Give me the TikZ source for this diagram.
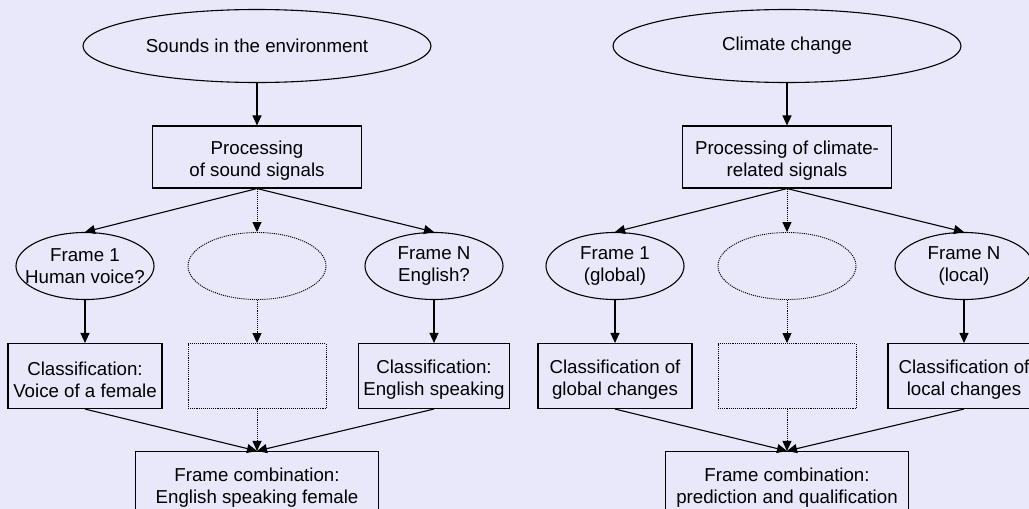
\documentclass[tikz,border=0pt]{standalone}
\usepackage{fontspec}
\setmainfont{Liberation Sans}
\usetikzlibrary{arrows.meta,shapes.geometric,positioning}
\definecolor{panelbg}{RGB}{232,232,250}

\tikzset{
  oval/.style={draw, ellipse, line width=1.1pt, inner xsep=-12pt, inner ysep=0pt, align=center},
  bigoval/.style={oval, minimum width=348, minimum height=73},
  frameoval/.style={oval, minimum width=138, minimum height=67},
  box/.style={draw, rectangle, line width=1.1pt, inner sep=0pt, align=center, text height=43pt},
  link/.style={-{Triangle[length=10pt,width=9pt]}, line width=1.1pt},
  dots/.style={densely dotted, line width=0.9pt},
}

\begin{document}
\begin{tikzpicture}[x=1pt,y=-1pt,font=\fontsize{18.7}{22}\selectfont]
\useasboundingbox (0,0) rectangle (1029,509);
\clip (0,0) rectangle (1029,509);
\fill[panelbg] (0,0) rectangle (1029,509);
% sound panel
\node[bigoval] (sTop) at (257,46) {Sounds in the environment};
\node[box, minimum width=209, minimum height=62] (sProc) at (257,157) {Processing\\of sound signals};
\node[frameoval] (sF1) at (85,266) {Frame 1\\Human voice?};
\node[frameoval, dots] (sFm) at (257,266) {};
\node[frameoval] (sFN) at (434,266) {Frame N\\English?};
\node[box, minimum width=154, minimum height=65] (sC1) at (85,376) {Classification:\\Voice of a female};
\node[box, dots, minimum width=138, minimum height=65] (sCm) at (257,376) {};
\node[box, minimum width=151, minimum height=65] (sCN) at (434,376) {Classification:\\English speaking};
\node[box, minimum width=243, minimum height=65] (sComb) at (257,484) {Frame combination:\\English speaking female};
\draw[link] (sTop) -- (sProc);
\draw[link] (sProc.south) -- (sF1.north);
\draw[link, dots] (sProc.south) -- (sFm.north);
\draw[link] (sProc.south) -- (sFN.north);
\draw[link] (sF1) -- (sC1);
\draw[link, dots] (sFm) -- (sCm);
\draw[link] (sFN) -- (sCN);
\draw[link] (sC1.south) -- (sComb.north);
\draw[link, dots] (sCm.south) -- (sComb.north);
\draw[link] (sCN.south) -- (sComb.north);
% climate panel
\begin{scope}[shift={(530,0)}]
\node[bigoval] (cTop) at (257,46) {Climate change};
\node[box, minimum width=209, minimum height=62] (cProc) at (257,157) {Processing of climate-\\related signals};
\node[frameoval] (cF1) at (85,266) {Frame 1\\(global)};
\node[frameoval, dots] (cFm) at (257,266) {};
\node[frameoval] (cFN) at (434,266) {Frame N\\(local)};
\node[box, minimum width=154, minimum height=65] (cC1) at (85,376) {Classification of\\global changes};
\node[box, dots, minimum width=138, minimum height=65] (cCm) at (257,376) {};
\node[box, minimum width=152, minimum height=65] (cCN) at (434,376) {Classification of\\local changes};
\node[box, minimum width=243, minimum height=65] (cComb) at (257,484) {Frame combination:\\prediction and qualification};
\draw[link] (cTop) -- (cProc);
\draw[link] (cProc.south) -- (cF1.north);
\draw[link, dots] (cProc.south) -- (cFm.north);
\draw[link] (cProc.south) -- (cFN.north);
\draw[link] (cF1) -- (cC1);
\draw[link, dots] (cFm) -- (cCm);
\draw[link] (cFN) -- (cCN);
\draw[link] (cC1.south) -- (cComb.north);
\draw[link, dots] (cCm.south) -- (cComb.north);
\draw[link] (cCN.south) -- (cComb.north);
\end{scope}
\end{tikzpicture}
\end{document}
